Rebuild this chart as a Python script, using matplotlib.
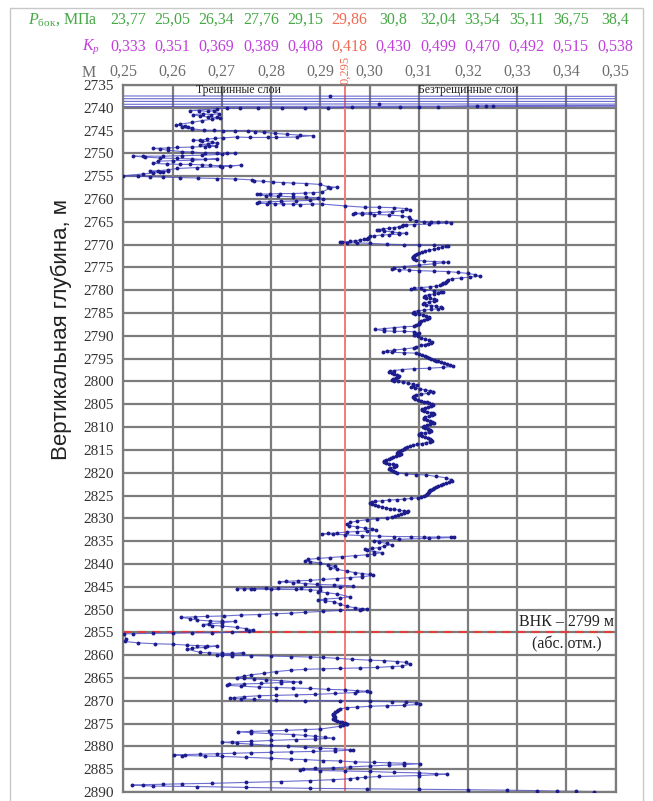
import numpy as np
import matplotlib
matplotlib.use("Agg")
import matplotlib.pyplot as plt
from matplotlib.patches import Rectangle
import matplotlib.transforms as mtransforms

plt.rcParams['font.family'] = ['Liberation Serif', 'DejaVu Serif']
plt.rcParams['mathtext.fontset'] = 'custom'
plt.rcParams['mathtext.rm'] = 'Liberation Serif'
plt.rcParams['mathtext.it'] = 'Liberation Serif:italic'

# ---- axis scales and header rows ----
m_ticks = [0.25, 0.26, 0.27, 0.28, 0.29, 0.30, 0.31, 0.32, 0.33, 0.34, 0.35]
m_tick_labels = ["0,25", "0,26", "0,27", "0,28", "0,29", "0,30",
                 "0,31", "0,32", "0,33", "0,34", "0,35"]
depth_ticks = list(range(2735, 2891, 5))
cutoff_m = 0.295
cutoff_label = "0,295"
p_side = ["23,77", "25,05", "26,34", "27,76", "29,15", "29,86",
          "30,8", "32,04", "33,54", "35,11", "36,75", "38,4"]
k_p = ["0,333", "0,351", "0,369", "0,389", "0,408", "0,418",
       "0,430", "0,499", "0,470", "0,492", "0,515", "0,538"]
cutoff_index = 5
owc_depth = 2855
owc_label = "ВНК – 2799 м"
owc_note = "(абс. отм.)"
zone_labels = ["Трещинные слои", "Безтрещинные слои"]

# ---- M(depth) log, (M, depth) pairs by interval ----
log_2737 = [
    (0.2400, 2737.40), (0.2920, 2737.45), (0.3600, 2737.50), (0.3600, 2738.00),
    (0.2400, 2738.00), (0.2400, 2738.60), (0.3600, 2738.60), (0.3600, 2739.20),
    (0.3019, 2739.15), (0.2400, 2739.25), (0.2400, 2739.75), (0.3600, 2739.55),
    (0.3251, 2739.60), (0.3237, 2739.65), (0.3219, 2739.65), (0.3140, 2739.75),
    (0.3100, 2739.80), (0.3062, 2739.85), (0.2965, 2739.90), (0.2915, 2740.00),
    (0.2870, 2740.00), (0.2822, 2740.00), (0.2773, 2740.00), (0.2738, 2740.05),
    (0.2710, 2740.10), (0.2690, 2740.20),
]
log_2740 = [
    (0.2635, 2740.6), (0.2654, 2740.6), (0.2671, 2740.8), (0.2684, 2740.6),
    (0.2694, 2741.3), (0.2679, 2741.5), (0.2662, 2741.3), (0.2641, 2741.5),
    (0.2656, 2741.8), (0.2671, 2742.0), (0.2690, 2742.1), (0.2696, 2742.3),
    (0.2680, 2742.5), (0.2660, 2742.8), (0.2640, 2743.2), (0.2615, 2743.6),
    (0.2608, 2743.8), (0.2625, 2744.0), (0.2632, 2744.2), (0.2639, 2744.4),
    (0.2620, 2744.3), (0.2640, 2744.6), (0.2663, 2744.9), (0.2685, 2744.95),
    (0.2703, 2745.0), (0.2727, 2745.0), (0.2754, 2745.1), (0.2768, 2745.2),
    (0.2785, 2745.4), (0.2808, 2745.6), (0.2832, 2745.8), (0.2859, 2746.0),
    (0.2885, 2746.1), (0.2852, 2746.4), (0.2811, 2746.5), (0.2794, 2746.5),
    (0.2757, 2746.5), (0.2730, 2746.4), (0.2703, 2746.6), (0.2686, 2746.7),
    (0.2669, 2746.9), (0.2656, 2747.1), (0.2642, 2747.1), (0.2660, 2747.3),
    (0.2680, 2747.5), (0.2690, 2747.7), (0.2672, 2747.9), (0.2655, 2748.1),
    (0.2675, 2748.3), (0.2688, 2748.4), (0.2665, 2748.5), (0.2640, 2748.6),
    (0.2610, 2748.7), (0.2590, 2748.8), (0.2561, 2748.9), (0.2575, 2749.0),
]
log_2749 = [
    (0.2590, 2749.3), (0.2620, 2749.6), (0.2640, 2749.7), (0.2665, 2749.9),
    (0.2690, 2749.9), (0.2710, 2750.0), (0.2727, 2750.0), (0.2700, 2750.2),
    (0.2660, 2750.4), (0.2620, 2750.5), (0.2580, 2750.6), (0.2540, 2750.6),
    (0.2520, 2750.6), (0.2545, 2750.8), (0.2575, 2751.0), (0.2610, 2751.1),
    (0.2640, 2751.2), (0.2665, 2751.3), (0.2690, 2751.2), (0.2640, 2751.5),
    (0.2600, 2751.6), (0.2570, 2751.7), (0.2561, 2752.2), (0.2588, 2752.3),
    (0.2615, 2752.4), (0.2635, 2752.4), (0.2659, 2752.5), (0.2676, 2752.6),
    (0.2696, 2752.7), (0.2717, 2752.7), (0.2739, 2752.6), (0.2700, 2752.9),
    (0.2650, 2753.1), (0.2610, 2753.3), (0.2590, 2753.6), (0.2570, 2753.8),
    (0.2555, 2753.9), (0.2575, 2754.0), (0.2591, 2753.9), (0.2580, 2754.1),
    (0.2560, 2754.3), (0.2540, 2754.5), (0.2500, 2754.9), (0.2530, 2755.0),
    (0.2554, 2755.1), (0.2581, 2755.2), (0.2615, 2755.3), (0.2652, 2755.4),
    (0.2690, 2755.5), (0.2727, 2755.6), (0.2761, 2755.8), (0.2765, 2756.0),
    (0.2784, 2756.1), (0.2805, 2756.3), (0.2825, 2756.4), (0.2845, 2756.5),
    (0.2872, 2756.6), (0.2899, 2756.8), (0.2916, 2757.3), (0.2933, 2757.4),
]
log_2757 = [
    (0.2920, 2757.6), (0.2903, 2758.5), (0.2886, 2758.6), (0.2869, 2758.7),
    (0.2845, 2758.8), (0.2818, 2758.8), (0.2798, 2758.9), (0.2778, 2758.9),
    (0.2771, 2759.0), (0.2790, 2759.3), (0.2815, 2759.4), (0.2845, 2759.5),
    (0.2872, 2759.6), (0.2895, 2759.7), (0.2905, 2759.9), (0.2880, 2760.3),
    (0.2850, 2760.4), (0.2820, 2760.5), (0.2795, 2760.6), (0.2775, 2760.7),
    (0.2771, 2760.9), (0.2791, 2761.0), (0.2808, 2761.0), (0.2825, 2761.1),
    (0.2845, 2761.1), (0.2859, 2761.2), (0.2883, 2761.1), (0.2903, 2761.1),
    (0.2950, 2761.5), (0.2990, 2761.8), (0.3020, 2761.8), (0.3050, 2761.9),
    (0.3075, 2762.1), (0.3082, 2762.3), (0.3065, 2762.6), (0.3045, 2762.8),
    (0.3020, 2762.9), (0.3000, 2763.0), (0.2985, 2763.1), (0.2970, 2763.1),
    (0.2966, 2763.2), (0.2985, 2763.3), (0.3010, 2763.4), (0.3040, 2763.5),
    (0.3065, 2763.7), (0.3080, 2764.0), (0.3082, 2764.3), (0.3095, 2764.8),
    (0.3110, 2765.0), (0.3125, 2765.1), (0.3140, 2765.1), (0.3155, 2765.1),
    (0.3166, 2765.2),
]
log_2765 = [
    (0.3120, 2765.5), (0.3090, 2765.6), (0.3075, 2765.7), (0.3069, 2765.8),
    (0.3066, 2765.9), (0.3060, 2766.1), (0.3050, 2766.25), (0.3040, 2766.4),
    (0.3028, 2766.55), (0.3020, 2766.7), (0.3015, 2766.85), (0.3030, 2767.0),
    (0.3045, 2767.2), (0.3060, 2767.4), (0.3075, 2767.5), (0.3060, 2767.7),
    (0.3040, 2767.8), (0.3025, 2767.9), (0.3010, 2768.05), (0.3000, 2768.2),
    (0.2996, 2768.45), (0.2994, 2768.7), (0.2988, 2768.85), (0.2980, 2769.0),
    (0.2970, 2769.15), (0.2960, 2769.3), (0.2945, 2769.4), (0.2940, 2769.5),
    (0.2955, 2769.6), (0.2975, 2769.6), (0.3000, 2769.7), (0.3035, 2769.9),
    (0.3070, 2770.0), (0.3100, 2770.1), (0.3130, 2770.1), (0.3160, 2770.2),
    (0.3156, 2770.4), (0.3148, 2770.6), (0.3139, 2770.8), (0.3130, 2771.0),
    (0.3121, 2771.2), (0.3113, 2771.4), (0.3107, 2771.6), (0.3101, 2771.8),
    (0.3096, 2772.0), (0.3092, 2772.2), (0.3090, 2772.4), (0.3088, 2772.6),
    (0.3088, 2772.8), (0.3089, 2773.0), (0.3091, 2773.2), (0.3095, 2773.4),
    (0.3110, 2773.6), (0.3130, 2773.7), (0.3150, 2773.8), (0.3160, 2773.9),
    (0.3130, 2774.2), (0.3100, 2774.5), (0.3070, 2774.8), (0.3050, 2775.1),
    (0.3045, 2775.3), (0.3060, 2775.5), (0.3080, 2775.6), (0.3100, 2775.7),
    (0.3130, 2775.8), (0.3160, 2775.9), (0.3180, 2776.1), (0.3200, 2776.3),
    (0.3215, 2776.6), (0.3224, 2776.9), (0.3205, 2777.1), (0.3185, 2777.3),
    (0.3168, 2777.5), (0.3160, 2777.7), (0.3157, 2777.9), (0.3155, 2778.1),
    (0.3153, 2778.3), (0.3150, 2778.5), (0.3147, 2778.7), (0.3143, 2778.9),
    (0.3135, 2779.1), (0.3122, 2779.25), (0.3105, 2779.4), (0.3090, 2779.55),
    (0.3085, 2779.75), (0.3110, 2779.9), (0.3130, 2780.1), (0.3150, 2780.3),
    (0.3145, 2780.45), (0.3140, 2780.6),
]
log_2781 = [
    (0.3130, 2780.8), (0.3120, 2781.0), (0.3112, 2781.2), (0.3110, 2781.4),
    (0.3115, 2781.6), (0.3122, 2781.8), (0.3130, 2782.0), (0.3135, 2782.2),
    (0.3130, 2782.4), (0.3120, 2782.6), (0.3110, 2782.8), (0.3108, 2783.0),
    (0.3115, 2783.2), (0.3125, 2783.35), (0.3135, 2783.5), (0.3145, 2783.7),
    (0.3148, 2783.9), (0.3140, 2784.05), (0.3125, 2784.2), (0.3110, 2784.35),
    (0.3098, 2784.5), (0.3090, 2784.7), (0.3088, 2784.9), (0.3092, 2785.1),
    (0.3100, 2785.3), (0.3108, 2785.5), (0.3115, 2785.7), (0.3120, 2785.9),
    (0.3120, 2786.1), (0.3116, 2786.3), (0.3110, 2786.5), (0.3105, 2786.7),
    (0.3102, 2786.9), (0.3100, 2787.1), (0.3100, 2787.3), (0.3100, 2787.5),
    (0.3095, 2787.7), (0.3090, 2787.9), (0.3070, 2788.0), (0.3050, 2788.2),
    (0.3030, 2788.4), (0.3012, 2788.6), (0.3030, 2788.9), (0.3050, 2789.0),
    (0.3070, 2789.0), (0.3090, 2789.1), (0.3100, 2789.3), (0.3095, 2789.5),
    (0.3090, 2789.7), (0.3092, 2789.9), (0.3098, 2790.1), (0.3105, 2790.4),
    (0.3112, 2790.7), (0.3120, 2791.0), (0.3127, 2791.3), (0.3125, 2791.5),
    (0.3118, 2791.7), (0.3112, 2791.9), (0.3105, 2792.1), (0.3095, 2792.4),
    (0.3090, 2792.6), (0.3070, 2792.9), (0.3050, 2793.1), (0.3035, 2793.3),
    (0.3028, 2793.5), (0.3045, 2793.6), (0.3070, 2793.7), (0.3095, 2793.8),
    (0.3100, 2794.0), (0.3106, 2794.2), (0.3112, 2794.4), (0.3117, 2794.6),
    (0.3121, 2794.8), (0.3125, 2795.0), (0.3130, 2795.2), (0.3135, 2795.4),
    (0.3140, 2795.6), (0.3146, 2795.8), (0.3152, 2796.0), (0.3158, 2796.2),
    (0.3164, 2796.4), (0.3169, 2796.7), (0.3150, 2796.9), (0.3120, 2797.1),
    (0.3090, 2797.2), (0.3065, 2797.4), (0.3049, 2797.6), (0.3042, 2797.8),
    (0.3040, 2798.0), (0.3045, 2798.2), (0.3050, 2798.4), (0.3056, 2798.6),
    (0.3060, 2798.8), (0.3058, 2799.0), (0.3054, 2799.2), (0.3048, 2799.4),
    (0.3045, 2799.6), (0.3050, 2799.8), (0.3058, 2800.0), (0.3068, 2800.2),
    (0.3078, 2800.4), (0.3088, 2800.6),
]
log_2800 = [
    (0.3096, 2800.8), (0.3088, 2801.0), (0.3085, 2801.2), (0.3092, 2801.4),
    (0.3102, 2801.6), (0.3112, 2801.8), (0.3122, 2802.0), (0.3128, 2802.2),
    (0.3128, 2802.4), (0.3118, 2802.6), (0.3105, 2802.8), (0.3095, 2803.0),
    (0.3090, 2803.2), (0.3089, 2803.4), (0.3090, 2803.6), (0.3093, 2803.8),
    (0.3098, 2804.0), (0.3104, 2804.2), (0.3110, 2804.4), (0.3116, 2804.6),
    (0.3121, 2804.8), (0.3126, 2805.0), (0.3128, 2805.2), (0.3125, 2805.4),
    (0.3119, 2805.6), (0.3112, 2805.8), (0.3107, 2806.0), (0.3106, 2806.2),
    (0.3110, 2806.4), (0.3117, 2806.6), (0.3124, 2806.8), (0.3129, 2807.0),
    (0.3130, 2807.2), (0.3127, 2807.4), (0.3120, 2807.6), (0.3113, 2807.8),
    (0.3110, 2808.0), (0.3111, 2808.2), (0.3116, 2808.4), (0.3122, 2808.6),
    (0.3127, 2808.8), (0.3130, 2809.0), (0.3128, 2809.2), (0.3123, 2809.4),
    (0.3117, 2809.6), (0.3111, 2809.8), (0.3109, 2810.0), (0.3112, 2810.2),
    (0.3118, 2810.4), (0.3123, 2810.6), (0.3125, 2810.8), (0.3121, 2811.0),
    (0.3113, 2811.2), (0.3105, 2811.4), (0.3100, 2811.6), (0.3101, 2811.8),
    (0.3106, 2812.0), (0.3112, 2812.2), (0.3118, 2812.4), (0.3122, 2812.6),
    (0.3125, 2812.8), (0.3126, 2813.0), (0.3122, 2813.2), (0.3115, 2813.4),
    (0.3106, 2813.6), (0.3097, 2813.8), (0.3089, 2814.0), (0.3082, 2814.2),
    (0.3077, 2814.4), (0.3073, 2814.6), (0.3070, 2814.8), (0.3066, 2815.0),
    (0.3062, 2815.2), (0.3058, 2815.4), (0.3056, 2815.6), (0.3060, 2815.8),
    (0.3064, 2816.0), (0.3060, 2816.2), (0.3054, 2816.4), (0.3048, 2816.6),
    (0.3043, 2816.8), (0.3039, 2817.0), (0.3034, 2817.2), (0.3030, 2817.4),
    (0.3030, 2817.6), (0.3034, 2817.8), (0.3040, 2818.0), (0.3047, 2818.2),
    (0.3053, 2818.4), (0.3054, 2818.6), (0.3049, 2818.8), (0.3042, 2819.0),
    (0.3040, 2819.2), (0.3043, 2819.4), (0.3048, 2819.6), (0.3052, 2819.8),
    (0.3056, 2820.0),
]
log_2820 = [
    (0.3075, 2820.3), (0.3095, 2820.4), (0.3115, 2820.5), (0.3135, 2820.8),
    (0.3155, 2821.1), (0.3165, 2821.5), (0.3168, 2821.9), (0.3162, 2822.1),
    (0.3155, 2822.3), (0.3150, 2822.5), (0.3145, 2822.7), (0.3140, 2822.9),
    (0.3135, 2823.1), (0.3131, 2823.3), (0.3128, 2823.5), (0.3125, 2823.7),
    (0.3123, 2823.9), (0.3121, 2824.1), (0.3120, 2824.3), (0.3119, 2824.5),
    (0.3117, 2824.7), (0.3114, 2824.9), (0.3110, 2825.1), (0.3105, 2825.3),
    (0.3098, 2825.5), (0.3085, 2825.65), (0.3070, 2825.8), (0.3055, 2825.9),
    (0.3040, 2826.0), (0.3025, 2826.15), (0.3012, 2826.3), (0.3005, 2826.5),
    (0.3001, 2826.7), (0.3006, 2826.9), (0.3012, 2827.1), (0.3018, 2827.3),
    (0.3025, 2827.5), (0.3033, 2827.7), (0.3041, 2827.9), (0.3050, 2828.05),
    (0.3060, 2828.2), (0.3070, 2828.35), (0.3079, 2828.5), (0.3076, 2828.7),
    (0.3070, 2828.9), (0.3064, 2829.1), (0.3058, 2829.3), (0.3052, 2829.5),
    (0.3045, 2829.7), (0.3036, 2829.85), (0.3015, 2830.1), (0.2995, 2830.3),
    (0.2975, 2830.6), (0.2960, 2830.9), (0.2955, 2831.3), (0.2958, 2831.6),
    (0.2975, 2831.9), (0.2990, 2832.1), (0.3005, 2832.3), (0.3014, 2832.5),
    (0.2995, 2832.8), (0.2975, 2832.9), (0.2955, 2833.0), (0.2935, 2833.2),
    (0.2915, 2833.3), (0.2903, 2833.4), (0.2925, 2833.5), (0.2950, 2833.6),
    (0.2985, 2833.8), (0.3020, 2833.9), (0.3050, 2834.0), (0.3085, 2834.0),
    (0.3110, 2834.1), (0.3140, 2834.1), (0.3165, 2834.1), (0.3172, 2834.2),
    (0.3120, 2834.4), (0.3060, 2834.6), (0.3010, 2834.9), (0.3020, 2835.2),
    (0.3035, 2835.5), (0.3045, 2835.8), (0.3030, 2836.1), (0.3020, 2836.4),
    (0.3005, 2836.6), (0.2990, 2836.8),
]
log_2837 = [
    (0.2995, 2837.0), (0.3010, 2837.3), (0.3025, 2837.5), (0.3010, 2837.8),
    (0.2995, 2838.0), (0.2970, 2838.2), (0.2945, 2838.4), (0.2920, 2838.6),
    (0.2895, 2838.8), (0.2875, 2839.0), (0.2868, 2839.3), (0.2880, 2839.5),
    (0.2900, 2839.8), (0.2915, 2840.2), (0.2930, 2840.5), (0.2920, 2840.9),
    (0.2935, 2841.2), (0.2955, 2841.6), (0.2970, 2841.9), (0.2985, 2842.1),
    (0.3000, 2842.3), (0.3008, 2842.5), (0.2985, 2842.8), (0.2960, 2843.0),
    (0.2935, 2843.2), (0.2905, 2843.4), (0.2880, 2843.6), (0.2855, 2843.7),
    (0.2830, 2843.8), (0.2817, 2843.9), (0.2845, 2844.1), (0.2870, 2844.3),
    (0.2893, 2844.5), (0.2927, 2844.6), (0.2967, 2844.8), (0.2940, 2845.0),
    (0.2900, 2845.1), (0.2860, 2845.2), (0.2815, 2845.3), (0.2790, 2845.3),
    (0.2765, 2845.4), (0.2745, 2845.4), (0.2730, 2845.4), (0.2760, 2845.5),
    (0.2800, 2845.6), (0.2850, 2845.6), (0.2880, 2845.7), (0.2900, 2845.8),
    (0.2895, 2846.1), (0.2913, 2846.3), (0.2935, 2846.6), (0.2960, 2847.2),
    (0.2940, 2847.5), (0.2910, 2847.7), (0.2895, 2847.9), (0.2910, 2848.1),
    (0.2927, 2848.3), (0.2940, 2848.8), (0.2954, 2849.3), (0.2970, 2849.6),
    (0.2985, 2849.8), (0.2995, 2849.9), (0.2980, 2850.0),
]
log_2850 = [
    (0.2940, 2850.2), (0.2905, 2850.4), (0.2870, 2850.6), (0.2840, 2850.8),
    (0.2810, 2850.9), (0.2775, 2851.1), (0.2740, 2851.2), (0.2705, 2851.4),
    (0.2670, 2851.5), (0.2645, 2851.6), (0.2618, 2851.7), (0.2635, 2852.0),
    (0.2650, 2852.3), (0.2676, 2852.5), (0.2700, 2852.6), (0.2727, 2852.6),
    (0.2700, 2852.9), (0.2675, 2853.1), (0.2662, 2853.3), (0.2680, 2853.5),
    (0.2700, 2853.6), (0.2730, 2853.9), (0.2750, 2854.2), (0.2764, 2854.5),
    (0.2755, 2854.8), (0.2720, 2855.0), (0.2680, 2855.1), (0.2640, 2855.1),
    (0.2600, 2855.2), (0.2560, 2855.2), (0.2520, 2855.3), (0.2502, 2855.3),
    (0.2505, 2856.5), (0.2503, 2857.0), (0.2530, 2857.3), (0.2565, 2857.5),
    (0.2600, 2857.6), (0.2630, 2857.8), (0.2650, 2857.9), (0.2670, 2858.0),
    (0.2690, 2858.0), (0.2665, 2858.3), (0.2640, 2858.5), (0.2630, 2858.7),
    (0.2656, 2859.4), (0.2675, 2859.5), (0.2700, 2859.6), (0.2720, 2859.6),
    (0.2744, 2859.5), (0.2720, 2859.8), (0.2700, 2859.9), (0.2690, 2860.0),
    (0.2720, 2860.1), (0.2760, 2860.1), (0.2800, 2860.2), (0.2840, 2860.3),
    (0.2880, 2860.4), (0.2905, 2860.5), (0.2935, 2860.7), (0.2965, 2860.9),
    (0.3000, 2861.1), (0.3030, 2861.2), (0.3055, 2861.4), (0.3075, 2861.6),
    (0.3082, 2862.0),
]
log_2862 = [
    (0.3065, 2862.4), (0.3045, 2862.5), (0.3015, 2862.7), (0.2980, 2862.8),
    (0.2940, 2862.9), (0.2905, 2863.0), (0.2870, 2863.1), (0.2840, 2863.3),
    (0.2810, 2863.6), (0.2785, 2864.0), (0.2760, 2864.3), (0.2745, 2864.6),
    (0.2730, 2864.9), (0.2745, 2865.1), (0.2765, 2865.2), (0.2790, 2865.4),
    (0.2820, 2865.6), (0.2845, 2865.8), (0.2859, 2865.9), (0.2820, 2866.0),
    (0.2780, 2866.2), (0.2745, 2866.3), (0.2715, 2866.4), (0.2710, 2866.6),
    (0.2740, 2866.8), (0.2775, 2867.0), (0.2810, 2867.1), (0.2845, 2867.2),
    (0.2880, 2867.3), (0.2915, 2867.5), (0.2950, 2867.6), (0.2975, 2867.8),
    (0.2995, 2867.9), (0.3000, 2868.0), (0.2970, 2868.2), (0.2930, 2868.4),
    (0.2890, 2868.6), (0.2850, 2868.7), (0.2810, 2868.8), (0.2775, 2868.9),
    (0.2745, 2869.1), (0.2725, 2869.3), (0.2717, 2869.5), (0.2740, 2869.6),
    (0.2765, 2869.7), (0.2810, 2869.9), (0.2870, 2870.0), (0.2940, 2870.0),
    (0.3000, 2870.1), (0.3045, 2870.2), (0.3075, 2870.3), (0.3095, 2870.5),
    (0.3103, 2870.8), (0.3070, 2871.0), (0.3035, 2871.1), (0.3000, 2871.2),
    (0.2975, 2871.4), (0.2955, 2871.5), (0.2940, 2871.8), (0.2937, 2872.05),
    (0.2935, 2872.3), (0.2930, 2872.55), (0.2928, 2872.8), (0.2925, 2873.0),
    (0.2925, 2873.2), (0.2928, 2873.4), (0.2930, 2873.6), (0.2927, 2873.8),
    (0.2925, 2874.0), (0.2930, 2874.2), (0.2935, 2874.4), (0.2940, 2874.55),
    (0.2945, 2874.7), (0.2950, 2874.85), (0.2955, 2875.0), (0.2952, 2875.2),
    (0.2946, 2875.4), (0.2940, 2875.6),
]
log_2876 = [
    (0.2900, 2876.2), (0.2870, 2876.3), (0.2830, 2876.5), (0.2795, 2876.6),
    (0.2760, 2876.7), (0.2733, 2876.8), (0.2760, 2877.0), (0.2800, 2877.2),
    (0.2845, 2877.4), (0.2870, 2877.6), (0.2890, 2877.8), (0.2910, 2878.0),
    (0.2925, 2878.2), (0.2890, 2878.4), (0.2850, 2878.5), (0.2800, 2878.7),
    (0.2760, 2878.9), (0.2720, 2879.0), (0.2700, 2879.1), (0.2730, 2879.3),
    (0.2760, 2879.5), (0.2800, 2879.8), (0.2835, 2880.0), (0.2870, 2880.2),
    (0.2900, 2880.4), (0.2930, 2880.5), (0.2960, 2880.7), (0.2967, 2880.8),
    (0.2930, 2881.0), (0.2885, 2881.1), (0.2840, 2881.2), (0.2800, 2881.3),
    (0.2760, 2881.4), (0.2725, 2881.5), (0.2690, 2881.6), (0.2655, 2881.7),
    (0.2625, 2881.8), (0.2602, 2881.9), (0.2620, 2882.0), (0.2665, 2882.1),
    (0.2700, 2882.2), (0.2750, 2882.4), (0.2800, 2882.6), (0.2840, 2882.8),
    (0.2870, 2882.9), (0.2905, 2883.1), (0.2940, 2883.2), (0.2970, 2883.4),
    (0.3010, 2883.5), (0.3040, 2883.6), (0.3070, 2883.7), (0.3102, 2883.8),
    (0.3070, 2884.0), (0.3040, 2884.1), (0.3000, 2884.3), (0.2960, 2884.5),
    (0.2925, 2884.7), (0.2890, 2884.8), (0.2865, 2885.0), (0.2858, 2885.1),
    (0.2900, 2885.3), (0.2950, 2885.4), (0.3000, 2885.5), (0.3050, 2885.7),
    (0.3100, 2885.8), (0.3135, 2886.0), (0.3157, 2886.1), (0.3100, 2886.4),
    (0.3020, 2886.6), (0.2990, 2886.8), (0.2975, 2886.9), (0.2960, 2887.1),
    (0.2925, 2887.3), (0.2880, 2887.5), (0.2820, 2887.7), (0.2750, 2887.9),
    (0.2680, 2888.1), (0.2620, 2888.2), (0.2580, 2888.3), (0.2540, 2888.4),
    (0.2517, 2888.5), (0.2560, 2888.7), (0.2650, 2888.8), (0.2750, 2889.0),
    (0.2880, 2889.2), (0.2995, 2889.3), (0.3100, 2889.4), (0.3200, 2889.5),
    (0.3280, 2889.6), (0.3340, 2889.7), (0.3380, 2889.8), (0.3420, 2889.85),
    (0.3455, 2889.9),
]

log_sections = [log_2737, log_2740, log_2749, log_2757, log_2765, log_2781,
                log_2800, log_2820, log_2837, log_2850, log_2862, log_2876]
log_pts = np.array([p for sec in log_sections for p in sec])
m_vals, depth_vals = log_pts[:, 0], log_pts[:, 1]

# ---- colours ----
c_green = "#45a845"
c_magenta = "#c23fdc"
c_hl = "#f06a55"
c_gray = "#6e6e6e"
c_grid = "#7c7c7c"
c_line = "#4848c4"
c_dot = "#1c1c8c"

W, H = 653, 801
fig = plt.figure(figsize=(W / 100, H / 100), dpi=100)
ax_l, ax_r, ax_t, ax_b = 123.3, 615.7, 85.0, 792.0
ax = fig.add_axes([ax_l / W, 1 - ax_b / H, (ax_r - ax_l) / W, (ax_b - ax_t) / H])

ax.set_xlim(m_ticks[0], m_ticks[-1])
ax.set_ylim(depth_ticks[-1], depth_ticks[0])
ax.set_xticks(m_ticks)
ax.set_yticks(depth_ticks)
ax.xaxis.tick_top()
ax.set_xticklabels(m_tick_labels, color=c_gray, fontsize=11.5)
ax.set_yticklabels([str(d) for d in depth_ticks], color="#333333", fontsize=11)
ax.tick_params(axis="both", length=0)
ax.tick_params(axis="x", pad=4)
ax.tick_params(axis="y", pad=7)
ax.grid(True, color=c_grid, lw=1.6, zorder=0)
ax.set_axisbelow(True)
for s in ax.spines.values():
    s.set_color(c_grid)
    s.set_linewidth(1.6)

# cutoff and oil-water contact
ax.axvline(cutoff_m, color="#f47b7b", lw=1.4, zorder=1)
ax.axhline(owc_depth, color="#e0403a", lw=1.5, ls=(0, (4, 3)), zorder=1)

# the log
ax.plot(m_vals, depth_vals, "-", color=c_line, lw=0.8, alpha=0.8, zorder=2)
ax.plot(m_vals, depth_vals, "o", ms=2.8, color=c_dot, mec="none", zorder=3)

# zone captions
ax.text(0.2734, 2736.1, zone_labels[0], fontsize=8.5, ha="center", va="center", color="#222222")
ax.text(0.3201, 2736.1, zone_labels[1], fontsize=8.5, ha="center", va="center", color="#222222")
ax.text(0.3400, 2852.7, owc_label, fontsize=11.5, ha="center", va="center", color="#222222")
ax.text(0.3400, 2857.6, owc_note, fontsize=11.5, ha="center", va="center", color="#222222")

# header rows above the axes
y_p = 1 + (ax_t - 20) / (ax_b - ax_t)
y_k = 1 + (ax_t - 47) / (ax_b - ax_t)
y_m = 1 + (ax_t - 73) / (ax_b - ax_t)
xs = np.linspace((128 - ax_l) / (ax_r - ax_l), (615 - ax_l) / (ax_r - ax_l), len(p_side))
for i, (p, k) in enumerate(zip(p_side, k_p)):
    ax.text(xs[i], y_p, p, transform=ax.transAxes, ha="center", va="center",
            fontsize=11.5, color=c_hl if i == cutoff_index else c_green)
    ax.text(xs[i], y_k, k, transform=ax.transAxes, ha="center", va="center",
            fontsize=11.5, color=c_hl if i == cutoff_index else c_magenta)
x_lab = (98 - ax_l) / (ax_r - ax_l)
ax.text(x_lab, y_p, r"$P_{\mathrm{бок}}$, МПа", transform=ax.transAxes, ha="right",
        va="center", fontsize=11.5, color=c_green)
ax.text(x_lab + 0.004, y_k, r"$K_p$", transform=ax.transAxes, ha="right",
        va="center", fontsize=11.5, color=c_magenta)
ax.text(x_lab - 0.004, y_m, "М", transform=ax.transAxes, ha="right",
        va="center", fontsize=11.5, color=c_gray)
trans = mtransforms.blended_transform_factory(ax.transData, ax.transAxes)
ax.text(cutoff_m, 1.002, cutoff_label, transform=trans, rotation=90, ha="center",
        va="bottom", fontsize=9, color=c_hl)

ax.set_ylabel("Вертикальная глубина, м", fontfamily="Liberation Sans", fontsize=16,
              color="#222222")
ax.yaxis.set_label_coords((72 - ax_l) / (ax_r - ax_l), 1 - (330 - ax_t) / (ax_b - ax_t))

fig.add_artist(Rectangle((10 / W, -0.01), (643 - 10) / W, 1 - 8 / H + 0.01,
                         transform=fig.transFigure, fill=False, ec="#c8c8c8", lw=1.0))

fig.savefig("out.png", dpi=100, facecolor="white")
